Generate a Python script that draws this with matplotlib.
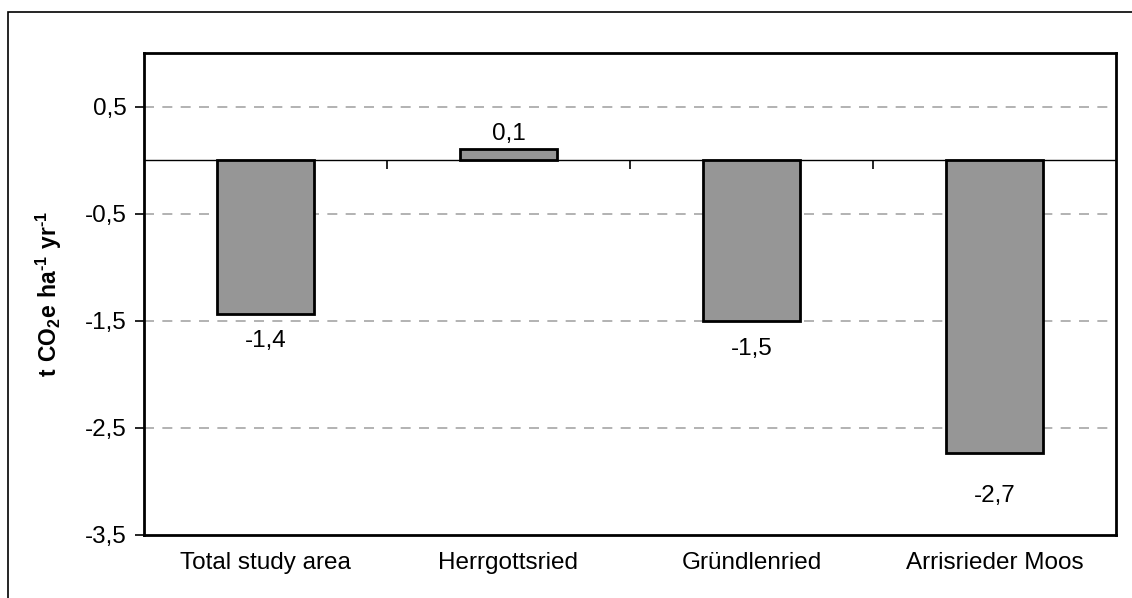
import matplotlib
matplotlib.use("Agg")
import matplotlib.pyplot as plt
from matplotlib.patches import Rectangle

plt.rcParams['font.family'] = ['Liberation Sans', 'DejaVu Sans']
plt.rcParams['mathtext.fontset'] = 'custom'
plt.rcParams['mathtext.rm'] = 'Liberation Sans:bold'
plt.rcParams['mathtext.bf'] = 'Liberation Sans:bold'

categories = ["Total study area", "Herrgottsried", "Gründlenried", "Arrisrieder Moos"]
values = [-1.44, 0.10, -1.50, -2.73]
value_labels = ["-1,4", "0,1", "-1,5", "-2,7"]
yticks = [0.5, -0.5, -1.5, -2.5, -3.5]
ytick_labels = ["0,5", "-0,5", "-1,5", "-2,5", "-3,5"]
label_offsets_px = [-27, 15, -28, -43]

W, H = 1132, 598
fig = plt.figure(figsize=(W / 100, H / 100), dpi=100)

# outer frame (cut at right and bottom)
fig.patches.append(Rectangle((8 / W, -0.1), 1.2, (H - 12) / H + 0.1,
                             transform=fig.transFigure, fill=False,
                             edgecolor='black', linewidth=1.2))

ax = fig.add_axes([144 / W, (H - 535) / H, (1116 - 144) / W, (535 - 53) / H])
ax.set_ylim(-3.5, 1.0)
ax.set_xlim(-0.5, len(categories) - 0.5)

for y in yticks[:-1]:
    ax.axhline(y, color='#a6a6a6', linewidth=1.2, linestyle=(0, (6, 5)), zorder=1)
ax.axhline(0, color='black', linewidth=1.0, zorder=2)

x = list(range(len(categories)))
bars = ax.bar(x, values, width=0.4, color='#969696', edgecolor='black',
              linewidth=2.0, zorder=3)

FS = 17.5
for xi, v, lab, off in zip(x, values, value_labels, label_offsets_px):
    ax.annotate(lab, (xi, v), xytext=(0, off * 0.72), textcoords='offset points',
                ha='center', va='center', fontsize=FS)

ax.set_yticks(yticks)
ax.set_yticklabels(ytick_labels, fontsize=FS)
ax.tick_params(axis='y', direction='out', length=6.5, width=1.2, pad=6)
ax.set_xticks(x)
ax.set_xticklabels(categories, fontsize=FS)
ax.tick_params(axis='x', length=0, pad=12)

for s in ax.spines.values():
    s.set_linewidth(2.0)

# category boundary ticks on the zero line
sec = ax.secondary_xaxis(3.5 / 4.5)
sec.set_xticks([i + 0.5 for i in range(len(categories) - 1)])
sec.set_xticklabels([])
sec.tick_params(axis='x', direction='in', length=6.5, width=1.2)
sec.spines['bottom'].set_visible(False)
sec.spines['top'].set_visible(False)

ax.set_ylabel(r'$\mathbf{t\ CO_2e\ ha}^{\mathrm{\text{-}1}}\ \mathbf{yr}^{\mathrm{\text{-}1}}$',
              fontsize=16.5)
ax.yaxis.set_label_coords(-(144 - 64) / (1116 - 144), 0.5)

fig.savefig("out.png", dpi=100)
